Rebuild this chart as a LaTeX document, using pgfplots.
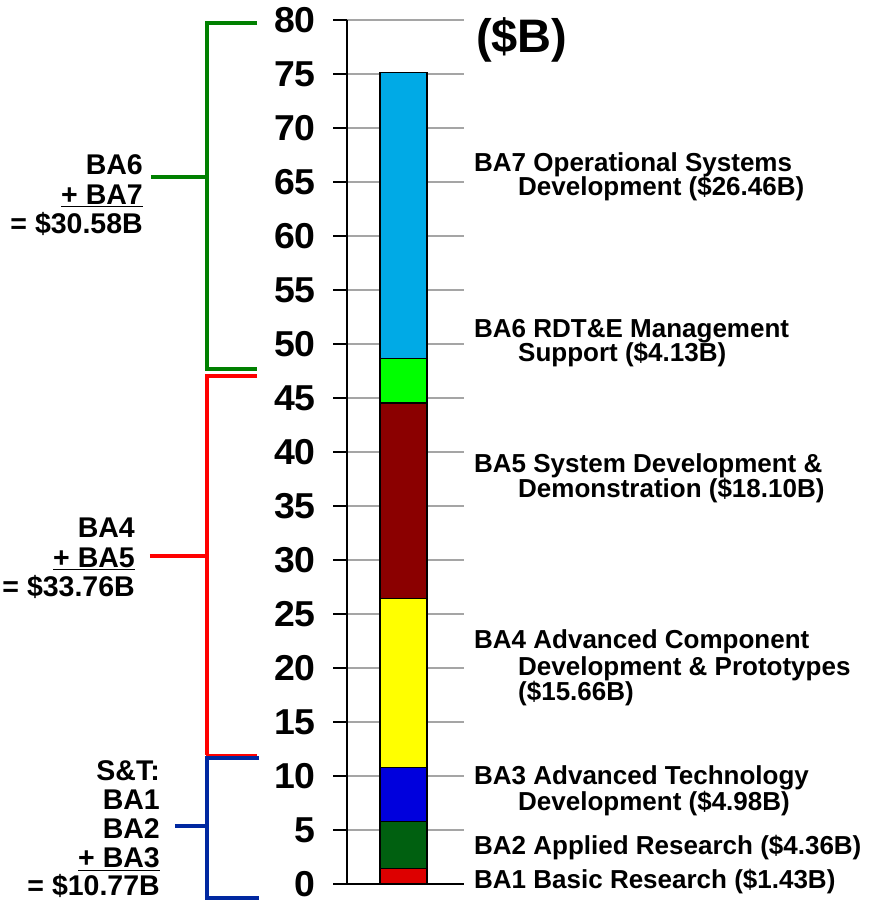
\documentclass[border=0pt]{standalone}
\usepackage{fontspec}
\setmainfont{Liberation Sans}
\newfontfamily\tickfont[FakeStretch=1.04]{Liberation Sans}
\usepackage{pgfplots}
\pgfplotsset{compat=1.18}
\definecolor{cBA1}{RGB}{221,0,0}
\definecolor{cBA2}{RGB}{0,96,16}
\definecolor{cBA3}{RGB}{0,0,221}
\definecolor{cBA4}{RGB}{255,255,0}
\definecolor{cBA5}{RGB}{139,0,0}
\definecolor{cBA6}{RGB}{0,255,0}
\definecolor{cBA7}{RGB}{0,170,230}
\definecolor{bgreen}{RGB}{0,128,0}
\definecolor{bred}{RGB}{255,0,0}
\definecolor{bblue}{RGB}{0,40,160}
\definecolor{gridgray}{RGB}{165,165,165}
\begin{document}
\begin{tikzpicture}[x=1pt,y=1pt]
\useasboundingbox (0,0) rectangle (872,903);
\begin{axis}[
  at={(347pt,19pt)}, anchor=south west,
  scale only axis, width=117pt, height=864pt,
  xmin=0, xmax=117, ymin=0, ymax=80,
  axis lines=left, axis line style={-, black, line width=1.4pt},
  ytick={0,5,...,80}, xtick=\empty,
  minor xtick={0,113}, minor tick length=7pt,
  tick align=outside, major tick length=14pt,
  tick style={black, line width=1.4pt},
  ymajorgrids, grid style={gridgray, line width=1.3pt},
  yticklabel style={font=\tickfont\bfseries\fontsize{36}{36}\selectfont, anchor=east, inner sep=0pt, xshift=-17pt},
  /pgf/number format/assume math mode=true,
  ybar stacked, bar width=47,
  clip=false,
]
\addplot[fill=cBA1, draw=black, line width=1.2pt] coordinates {(56.5,1.43)};
\addplot[fill=cBA2, draw=black, line width=1.2pt] coordinates {(56.5,4.36)};
\addplot[fill=cBA3, draw=black, line width=1.2pt] coordinates {(56.5,4.98)};
\addplot[fill=cBA4, draw=black, line width=1.2pt] coordinates {(56.5,15.66)};
\addplot[fill=cBA5, draw=black, line width=1.2pt] coordinates {(56.5,18.10)};
\addplot[fill=cBA6, draw=black, line width=1.2pt] coordinates {(56.5,4.13)};
\addplot[fill=cBA7, draw=black, line width=1.2pt] coordinates {(56.5,26.46)};
% brackets
\draw[bgreen, line width=4pt, line join=miter] (axis cs:-90,79.72) -- (axis cs:-140,79.72) -- (axis cs:-140,47.69) -- (axis cs:-90,47.69);
\draw[bgreen, line width=4pt] (axis cs:-196,65.46) -- (axis cs:-140,65.46);
\draw[bred, line width=4pt, line join=miter] (axis cs:-90,47.04) -- (axis cs:-140,47.04) -- (axis cs:-140,11.94);
\draw[bred, line width=1.5pt] (axis cs:-141,11.94) -- (axis cs:-90,11.94);
\draw[bred, line width=4pt] (axis cs:-197,30.37) -- (axis cs:-140,30.37);
\draw[bblue, line width=4pt, line join=miter] (axis cs:-88,11.67) -- (axis cs:-140,11.67) -- (axis cs:-140,-1.30) -- (axis cs:-88,-1.30);
\draw[bblue, line width=4pt] (axis cs:-172,5.37) -- (axis cs:-140,5.37);
\end{axis}
% title
\node[anchor=base west, inner sep=0pt, font=\bfseries\fontsize{47}{47}\selectfont] at (476,903-53) {(\$B)};
% right labels
\begin{scope}[every node/.style={anchor=base west, inner sep=0pt, font=\bfseries\fontsize{26}{26}\selectfont}]
\node at (474,903-172) {BA7 Operational Systems};
\node at (518,903-196) {Development (\$26.46B)};
\node at (474,903-338) {BA6 RDT\&E Management};
\node at (518,903-362) {Support (\$4.13B)};
\node at (474,903-473) {BA5 System Development \&};
\node at (518,903-498) {Demonstration (\$18.10B)};
\node at (474,903-649) {BA4 Advanced Component};
\node at (518,903-676) {Development \& Prototypes};
\node at (518,903-701) {(\$15.66B)};
\node at (474,903-785) {BA3 Advanced Technology};
\node at (518,903-811) {Development (\$4.98B)};
\node at (474,903-855) {BA2 Applied Research (\$4.36B)};
\node at (474,903-889) {BA1 Basic Research (\$1.43B)};
\end{scope}
% left labels
\begin{scope}[every node/.style={anchor=base east, inner sep=0pt, font=\bfseries\fontsize{28.5}{28.5}\selectfont}]
\node at (143,903-175) {BA6};
\node at (143,903-205) {\underline{+ BA7}};
\node at (143,903-234) {= \$30.58B};
\node at (135,903-538) {BA4};
\node at (135,903-568) {\underline{+ BA5}};
\node at (135,903-597) {= \$33.76B};
\node at (160,903-781) {S\&T:};
\node at (160,903-810) {BA1};
\node at (160,903-839) {BA2};
\node at (160,903-868) {\underline{+ BA3}};
\node at (160,903-896) {= \$10.77B};
\end{scope}
\end{tikzpicture}
\end{document}
